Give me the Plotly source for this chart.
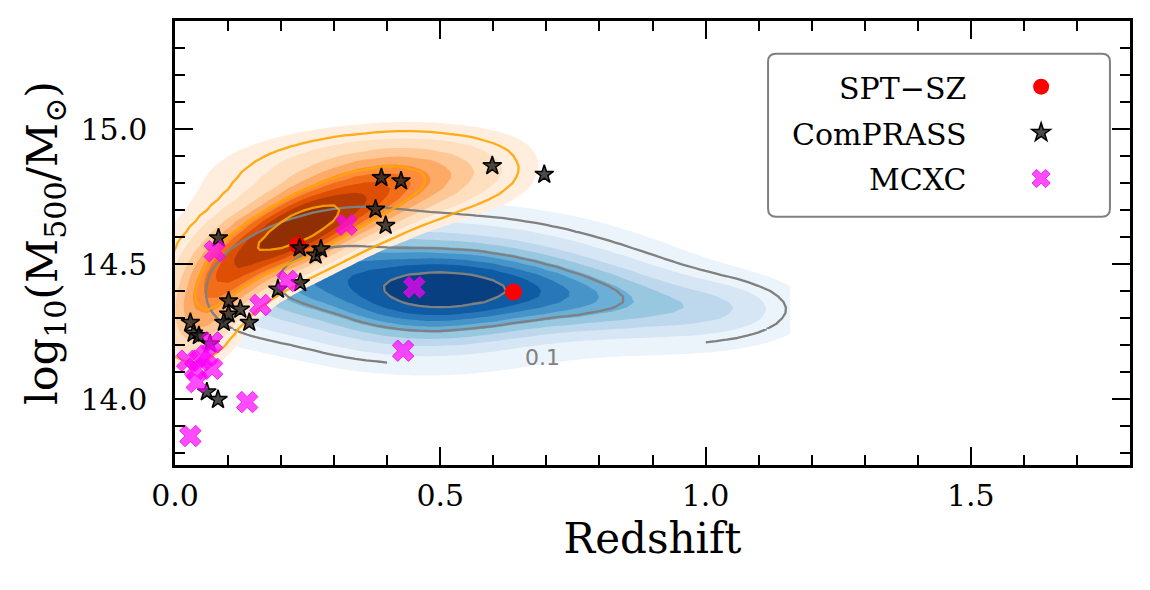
import numpy as np
import plotly.graph_objects as go

# cluster catalogues: redshift and log10 mass
spt_z = [0.231, 0.638]
spt_m = [14.570, 14.397]

compass_z = [0.082, 0.389, 0.426, 0.598, 0.696, 0.378, 0.397, 0.235, 0.265, 0.275,
             0.236, 0.194, 0.101, 0.123, 0.101, 0.092, 0.140, 0.029, 0.035, 0.045,
             0.066, 0.060, 0.081]
compass_m = [14.597, 14.820, 14.808, 14.864, 14.832, 14.703, 14.643, 14.560, 14.533, 14.556,
             14.431, 14.407, 14.364, 14.333, 14.315, 14.284, 14.284, 14.284, 14.244, 14.235,
             14.205, 14.027, 13.999]

mcxc_z = [0.075, 0.323, 0.212, 0.161, 0.451, 0.430, 0.136, 0.029, 0.070, 0.023,
          0.048, 0.070, 0.038, 0.041, 0.060]
mcxc_m = [14.548, 14.646, 14.438, 14.349, 14.415, 14.180, 13.990, 13.864, 14.211, 14.143,
          14.143, 14.113, 14.113, 14.064, 14.162]

# orange population: kernels along a curved ridge plus two broad halo terms
ridge_z = [0.03, 0.04, 0.06, 0.09, 0.13, 0.18, 0.23, 0.28, 0.34, 0.40, 0.46, 0.52, 0.58, 0.64]
ridge_m = [14.22, 14.30, 14.38, 14.45, 14.52, 14.58, 14.63, 14.675, 14.72, 14.76, 14.79, 14.81, 14.825, 14.835]
ridge_w = [0.25, 0.33, 0.42, 0.52, 0.65, 0.82, 1.00, 1.00, 0.85, 0.62, 0.42, 0.27, 0.16, 0.09]
halo_z = [0.11, 0.36]
halo_m = [14.58, 14.87]
halo_sz = [0.09, 0.16]
halo_sm = [0.14, 0.09]
halo_rho = [0.3, 0.2]
halo_w = [0.33, 0.45]

# blue population: gaussian components, evaluated up to z = 1.16 only
blue_z = [0.47, 0.80, 0.24, 1.04, 0.50]
blue_m = [14.385, 14.37, 14.48, 14.34, 14.50]
blue_sz = [0.17, 0.17, 0.10, 0.09, 0.25]
blue_sm = [0.13, 0.10, 0.13, 0.07, 0.13]
blue_rho = [0.0, -0.3, 0.5, 0.0, 0.0]
blue_w = [1.0, 0.52, 0.35, 0.19, 0.22]
blue_zmax = 1.16

fill_levels = np.linspace(0.05, 1.0, 10)
line_levels = [0.1, 0.5, 0.9]

oranges = ['#ffeede', '#fedfbf', '#fdc896', '#fdaa66', '#fd8d3c', '#f26d18', '#de4f05', '#b73c02', '#902e04']
blues = ['#ecf4fb', '#d6e6f4', '#bdd7ec', '#98c7e0', '#6baed6', '#4795c8', '#2878b9', '#105ca4', '#083f81']

gx = np.linspace(-0.2, 1.8, 101)
gy = np.linspace(13.6, 15.5, 96)
X, Y = np.meshgrid(gx, gy)


def gauss(cx, cy, sx, sy, rho, w):
    u = (X - cx) / sx
    v = (Y - cy) / sy
    return w * np.exp(-0.5 * (u * u - 2 * rho * u * v + v * v) / (1 - rho * rho))


def to_mass(z):
    # density -> fraction of mass lying below that density (iso-proportion)
    zs = np.sort(z.ravel())
    cum = np.cumsum(zs)
    cum = cum / cum[-1]
    return np.interp(z, zs, cum)


dens_o = sum(gauss(a, b, 0.045, 0.085, 0.0, w) for a, b, w in zip(ridge_z, ridge_m, ridge_w))
dens_o = dens_o + sum(gauss(*p) for p in zip(halo_z, halo_m, halo_sz, halo_sm, halo_rho, halo_w))
dens_b = sum(gauss(*p) for p in zip(blue_z, blue_m, blue_sz, blue_sm, blue_rho, blue_w))
q_o = to_mass(dens_o)
q_b = to_mass(dens_b)

step = fill_levels[1] - fill_levels[0]
nb = len(fill_levels) - 1
bx = int(np.searchsorted(gx, blue_zmax)) + 1   # blue grid columns kept


def fill_trace(q, cols, xs=slice(None)):
    scale = [[0, 'rgba(255,255,255,0)']] + [[(k + 1) / nb, c] for k, c in enumerate(cols)]
    return go.Contour(x=gx[xs], y=gy, z=q[:, xs], autocontour=False,
                      contours=dict(start=fill_levels[0], end=fill_levels[-2] + 1e-6, size=step,
                                    coloring='fill', showlines=False),
                      colorscale=scale, showscale=False, line=dict(width=0, smoothing=0),
                      hoverinfo='skip', showlegend=False)


def line_trace(q, lev, color, xs=slice(None), ys=slice(None)):
    return go.Contour(x=gx[xs], y=gy[ys], z=q[ys, xs], autocontour=False,
                      contours=dict(start=lev, end=lev, size=1, coloring='none'),
                      line=dict(color=color, width=2.3, smoothing=0),
                      showscale=False, hoverinfo='skip', showlegend=False)


fig = go.Figure()
fig.add_trace(fill_trace(q_b, blues, slice(None, bx)))
fig.add_trace(fill_trace(q_o, oranges))

# grey lines of the blue population; the outer one is broken where its label sits
ix_a = int(np.searchsorted(gx, 0.39))
ix_b = int(np.searchsorted(gx, 0.99))
iy_s = int(np.searchsorted(gy, 14.26))
grey = '#808080'
fig.add_trace(line_trace(q_b, line_levels[0], grey, xs=slice(None, bx), ys=slice(iy_s, None)))
fig.add_trace(line_trace(q_b, line_levels[0], grey, xs=slice(None, ix_a + 1), ys=slice(None, iy_s + 1)))
fig.add_trace(line_trace(q_b, line_levels[0], grey, xs=slice(ix_b, bx), ys=slice(None, iy_s + 1)))
for lev in line_levels[1:]:
    fig.add_trace(line_trace(q_b, lev, grey, xs=slice(None, bx)))
for lev in line_levels:
    fig.add_trace(line_trace(q_o, lev, 'rgba(255,165,0,0.9)'))

spt_style = dict(symbol='circle', size=17, color='red', line=dict(width=0))
star_style = dict(symbol='star', size=14, color='rgba(30,30,30,0.8)', line=dict(width=1.5, color='black'))
x_style = dict(symbol='x', size=19, color='rgba(255,0,255,0.7)', line=dict(width=1, color='rgba(240,0,240,0.8)'))

fig.add_trace(go.Scatter(x=spt_z, y=spt_m, mode='markers', name='SPT\u2212SZ', marker=spt_style, showlegend=False))
fig.add_trace(go.Scatter(x=compass_z, y=compass_m, mode='markers', name='ComPRASS', marker=star_style, showlegend=False))
fig.add_trace(go.Scatter(x=mcxc_z, y=mcxc_m, mode='markers', name='MCXC', marker=x_style, showlegend=False))

# legend keys (text is written separately, to the left of the keys)
for st in (spt_style, star_style, x_style):
    fig.add_trace(go.Scatter(x=[None], y=[None], mode='markers', name=' ', marker=st, showlegend=True))

serif = 'DejaVu Serif'
labels = ['SPT\u2212SZ', 'ComPRASS', 'MCXC']
label_y = [0.848, 0.745, 0.642]
for t, yy in zip(labels, label_y):
    fig.add_annotation(x=0.830, y=yy, xref='paper', yref='paper', text=t, showarrow=False,
                       xanchor='right', yanchor='middle', font=dict(family=serif, size=30, color='black'))

fig.add_annotation(x=0.693, y=14.155, text='0.1', showarrow=False,
                   font=dict(family='DejaVu Sans', size=22, color=grey))

# legend frame with rounded corners
x0, x1, y0, y1 = 0.621, 0.979, 0.559, 0.926
rx, ry = 0.0084, 0.018
path = (f'M{x0 + rx},{y0} L{x1 - rx},{y0} Q{x1},{y0} {x1},{y0 + ry} L{x1},{y1 - ry} '
        f'Q{x1},{y1} {x1 - rx},{y1} L{x0 + rx},{y1} Q{x0},{y1} {x0},{y1 - ry} '
        f'L{x0},{y0 + ry} Q{x0},{y0} {x0 + rx},{y0} Z')
fig.add_shape(type='path', path=path, xref='paper', yref='paper',
              line=dict(color=grey, width=2), fillcolor='rgba(255,255,255,0.85)', layer='above')

axis_common = dict(showline=True, linecolor='black', linewidth=2.5, mirror='ticks',
                   ticks='inside', ticklen=18, tickwidth=2, tickcolor='black',
                   showgrid=False, zeroline=False,
                   tickfont=dict(family=serif, size=30, color='black'))

fig.update_xaxes(range=[0, 1.8], dtick=0.5, tick0=0, tickformat='.1f',
                 minor=dict(dtick=0.1, ticklen=10, tickwidth=1.5, ticks='inside', tickcolor='black'),
                 title=dict(text='Redshift', font=dict(family=serif, size=42, color='black'), standoff=12),
                 ticklabelstandoff=2, **axis_common)
fig.update_yaxes(range=[13.757, 15.40], dtick=0.5, tick0=14, tickformat='.1f',
                 minor=dict(dtick=0.1, ticklen=10, tickwidth=1.5, ticks='inside', tickcolor='black'),
                 title=dict(text='log<sub>10</sub>(M<sub>500</sub>/M<sub>\u2299</sub>)',
                            font=dict(family=serif, size=43, color='black'), standoff=10),
                 ticklabelstandoff=19, **axis_common)

# the page body adds an 8 px offset, so the figure is drawn 8 px smaller
fig.update_layout(width=1142, height=582, margin=dict(l=167, r=20, t=10, b=125),
                  plot_bgcolor='white', paper_bgcolor='white',
                  legend=dict(x=0.886, y=0.915, xanchor='left', yanchor='top',
                              bgcolor='rgba(0,0,0,0)', borderwidth=0,
                              font=dict(family=serif, size=33)))

fig.write_html('out.html')
